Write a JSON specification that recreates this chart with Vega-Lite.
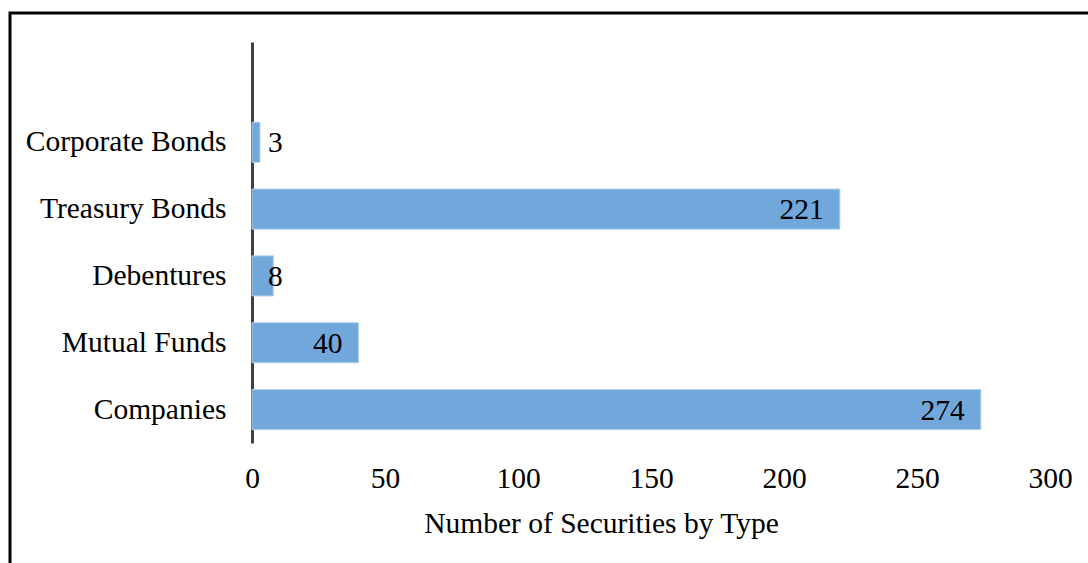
{
  "$schema": "https://vega.github.io/schema/vega-lite/v6.json",
  "autosize": {"type": "none"},
  "padding": {"left": 10, "top": 13, "right": -12, "bottom": -37},
  "width": 1090,
  "height": 587,
  "background": "white",
  "view": {"stroke": "black", "strokeWidth": 3},
  "data": {
    "values": [
      {"type": "Corporate Bonds", "count": 3},
      {"type": "Treasury Bonds", "count": 221},
      {"type": "Debentures", "count": 8},
      {"type": "Mutual Funds", "count": 40},
      {"type": "Companies", "count": 274}
    ]
  },
  "encoding": {
    "y": {
      "field": "type",
      "type": "nominal",
      "sort": null,
      "scale": {
        "domain": [" ", "Corporate Bonds", "Treasury Bonds", "Debentures", "Mutual Funds", "Companies"],
        "range": [29, 430],
        "paddingInner": 0.4,
        "paddingOuter": 0.2
      },
      "axis": {
        "title": null,
        "orient": "left",
        "offset": -242,
        "domain": true,
        "domainColor": "#404040",
        "domainWidth": 3,
        "ticks": false,
        "grid": false,
        "labelFont": "Liberation Serif",
        "labelFontSize": 29.5,
        "labelColor": "black",
        "labelPadding": 26,
        "labelLimit": 0,
        "labelAlign": "right",
        "labelBaseline": "middle"
      }
    }
  },
  "layer": [
    {
      "mark": {"type": "bar", "color": "#71a7db", "stroke": "#b4d0ec", "strokeWidth": 1},
      "encoding": {
        "x": {
          "field": "count",
          "type": "quantitative",
          "scale": {"domain": [0, 300], "range": [242, 1040], "nice": false, "zero": true},
          "axis": {
            "orient": "bottom",
            "offset": -157,
            "values": [0, 50, 100, 150, 200, 250, 300],
            "domain": false,
            "ticks": false,
            "grid": false,
            "labelFlush": false,
            "labelOverlap": false,
            "labelFont": "Liberation Serif",
            "labelFontSize": 29.5,
            "labelColor": "black",
            "labelPadding": 21,
            "title": "Number of Securities by Type",
            "titleFont": "Liberation Serif",
            "titleFontSize": 29.5,
            "titleFontWeight": "normal",
            "titleColor": "black",
            "titleAnchor": "start",
            "titleAlign": "center",
            "titleX": 591,
            "titleY": 89,
            "titleBaseline": "alphabetic"
          }
        }
      }
    },
    {
      "transform": [{"filter": "datum.count >= 20"}],
      "mark": {"type": "text", "align": "right", "baseline": "middle", "dx": -16, "dy": 1, "font": "Liberation Serif", "fontSize": 29.5, "color": "black"},
      "encoding": {
        "x": {"field": "count", "type": "quantitative"},
        "text": {"field": "count", "type": "quantitative"}
      }
    },
    {
      "transform": [{"filter": "datum.count < 20"}],
      "mark": {"type": "text", "align": "left", "baseline": "middle", "dx": 16, "dy": 1, "font": "Liberation Serif", "fontSize": 29.5, "color": "black"},
      "encoding": {
        "x": {"datum": 0, "type": "quantitative"},
        "text": {"field": "count", "type": "quantitative"}
      }
    }
  ]
}
